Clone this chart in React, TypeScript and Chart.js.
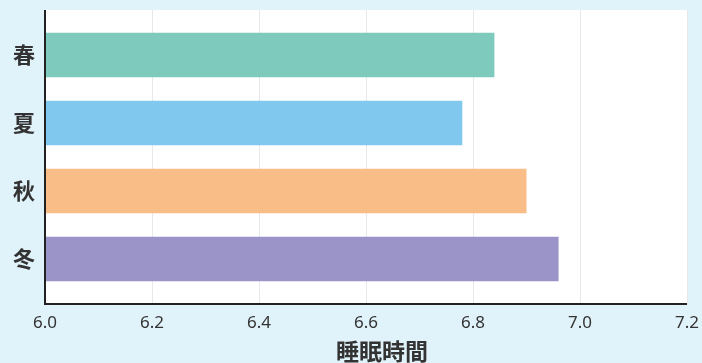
import React, { useEffect, useRef } from "react";
import { Chart, registerables } from "chart.js";

Chart.register(...registerables);

const categories = ["春", "夏", "秋", "冬"];
const sleepHours = [6.84, 6.78, 6.9, 6.96];
const barColors = ["#7ECBBD", "#80C8EE", "#F9BD87", "#9B94C8"];
const xMin = 6.0;
const xMax = 7.2;
const xStep = 0.2;
const xAxisTitle = "睡眠時間";

const CJK = '"Noto Sans CJK JP", "Noto Sans", sans-serif';
const LATIN = '"Noto Sans", "Noto Sans CJK JP", sans-serif';

const boxPlugin = {
  id: "boxPlugin",
  beforeDraw(chart: any) {
    const { ctx, chartArea: a, scales } = chart;
    const top = a.top - 11;
    const bottom = a.bottom + 12;
    ctx.save();
    ctx.fillStyle = "#ffffff";
    ctx.fillRect(a.left, top, a.right - a.left, bottom - top);
    ctx.strokeStyle = "#e6e8ea";
    ctx.lineWidth = 1;
    scales.x.ticks.forEach((t: any) => {
      const x = Math.round(scales.x.getPixelForValue(t.value)) + 0.5;
      ctx.beginPath();
      ctx.moveTo(x, top);
      ctx.lineTo(x, bottom);
      ctx.stroke();
    });
    ctx.restore();
  },
  afterDatasetsDraw(chart: any) {
    const { ctx, chartArea: a } = chart;
    const top = a.top - 11;
    const bottom = a.bottom + 12;
    ctx.save();
    ctx.strokeStyle = "#222222";
    ctx.lineWidth = 2;
    ctx.beginPath();
    ctx.moveTo(a.left, top);
    ctx.lineTo(a.left, bottom - 1);
    ctx.lineTo(a.right, bottom - 1);
    ctx.stroke();
    ctx.restore();
  },
  afterDraw(chart: any) {
    const { ctx, chartArea: a } = chart;
    ctx.save();
    ctx.fillStyle = "#333333";
    ctx.font = `bold 23px ${CJK}`;
    ctx.textAlign = "center";
    ctx.textBaseline = "middle";
    ctx.fillText(xAxisTitle, (a.left + a.right) / 2 + 16, 351);
    ctx.restore();
  },
};

export default function App() {
  const ref = useRef<HTMLCanvasElement | null>(null);

  useEffect(() => {
    if (!ref.current) return;
    const chart = new Chart(ref.current, {
      type: "bar",
      data: {
        labels: categories,
        datasets: [
          {
            data: sleepHours,
            backgroundColor: barColors,
            borderWidth: 0,
            categoryPercentage: 0.8,
            barPercentage: 0.82,
          },
        ],
      },
      options: {
        indexAxis: "y",
        responsive: false,
        animation: false,
        layout: { padding: { top: 21, right: 15, left: 0, bottom: 0 } },
        plugins: {
          legend: { display: false },
          tooltip: { enabled: false },
        },
        scales: {
          x: {
            type: "linear",
            min: xMin,
            max: xMax,
            ticks: {
              stepSize: xStep,
              padding: 20,
              color: "#333333",
              font: { family: LATIN, size: 17 },
              callback: (v: any) => Number(v).toFixed(1),
            },
            grid: { display: false, drawTicks: false },
            border: { display: false },
            afterFit: (s: any) => {
              s.height = 70;
              s.paddingLeft = 0;
              s.paddingRight = 0;
            },
          },
          y: {
            ticks: {
              padding: 10,
              color: "#333333",
              font: { family: CJK, size: 22, weight: "bold" },
            },
            grid: { display: false, drawTicks: false },
            border: { display: false },
            afterFit: (s: any) => {
              s.width = 45;
              s.paddingTop = 0;
              s.paddingBottom = 0;
            },
          },
        },
      },
      plugins: [boxPlugin],
    } as any);
    return () => chart.destroy();
  }, []);

  return (
    <div
      style={{
        position: "absolute",
        left: 0,
        top: 0,
        width: 702,
        height: 363,
        background: "#E0F2FA",
      }}
    >
      <canvas ref={ref} width={702} height={363} style={{ display: "block" }} />
    </div>
  );
}
